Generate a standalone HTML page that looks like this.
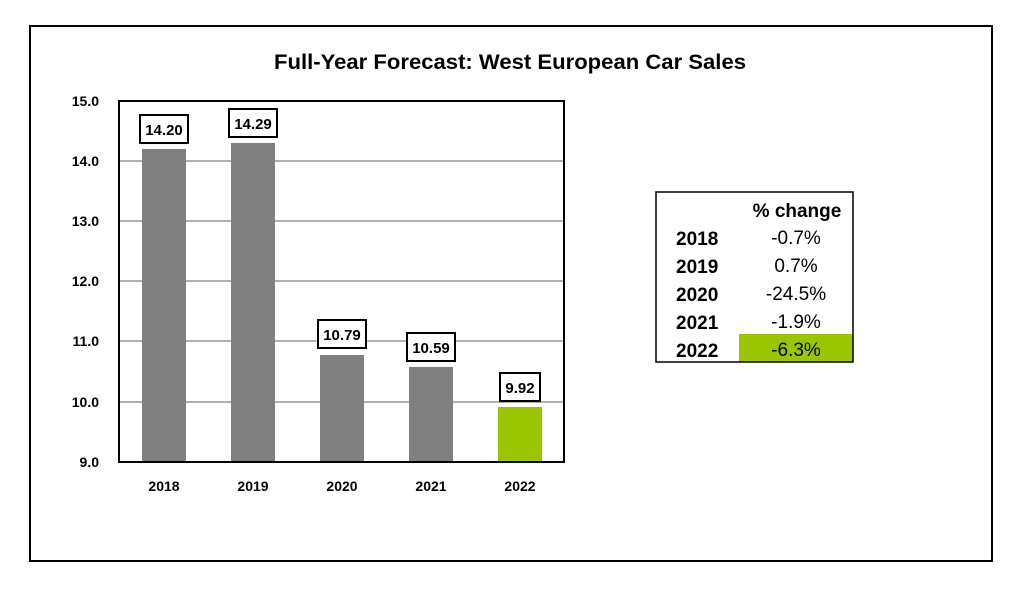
<!DOCTYPE html>
<html><head><meta charset="utf-8"><style>
html,body{margin:0;padding:0;background:#fff;}
</style></head><body>
<svg width="1023" height="587" xmlns="http://www.w3.org/2000/svg" font-family="Liberation Sans, sans-serif">
<rect x="0" y="0" width="1023" height="587" fill="#fff"/>
<rect x="30" y="26" width="962" height="535" fill="none" stroke="#000" stroke-width="2"/>
<text x="510" y="69" text-anchor="middle" font-size="21" font-weight="bold" textLength="472" lengthAdjust="spacingAndGlyphs">Full-Year Forecast: West European Car Sales</text>
<g stroke="#b0b0b0" stroke-width="2">
<line x1="119" y1="161" x2="564" y2="161"/>
<line x1="119" y1="221" x2="564" y2="221"/>
<line x1="119" y1="281" x2="564" y2="281"/>
<line x1="119" y1="341" x2="564" y2="341"/>
<line x1="119" y1="402" x2="564" y2="402"/>
</g>
<g fill="#808080">
<rect x="142" y="149" width="44" height="313"/>
<rect x="231" y="143" width="44" height="319"/>
<rect x="320" y="355" width="44" height="107"/>
<rect x="409" y="367" width="44" height="95"/>
</g>
<rect x="498" y="407" width="44" height="55" fill="#99c600"/>
<rect x="119" y="101" width="445" height="361" fill="none" stroke="#000" stroke-width="2"/>
<g font-size="14" font-weight="bold" text-anchor="end">
<text x="99" y="106">15.0</text>
<text x="99" y="166">14.0</text>
<text x="99" y="226">13.0</text>
<text x="99" y="286">12.0</text>
<text x="99" y="346">11.0</text>
<text x="99" y="407">10.0</text>
<text x="99" y="467">9.0</text>
</g>
<g font-size="14" font-weight="bold" text-anchor="middle">
<text x="164" y="491">2018</text>
<text x="253" y="491">2019</text>
<text x="342" y="491">2020</text>
<text x="431" y="491">2021</text>
<text x="520" y="491">2022</text>
</g>
<g fill="#fff" stroke="#000" stroke-width="2">
<rect x="140" y="115" width="48" height="28"/>
<rect x="229" y="109" width="48" height="28"/>
<rect x="318" y="320" width="48" height="28"/>
<rect x="407" y="333" width="48" height="28"/>
<rect x="500" y="373" width="40" height="28"/>
</g>
<g font-size="15" font-weight="bold" text-anchor="middle">
<text x="164" y="135">14.20</text>
<text x="253" y="129">14.29</text>
<text x="342" y="340">10.79</text>
<text x="431" y="353">10.59</text>
<text x="520" y="393">9.92</text>
</g>
<rect x="739" y="334" width="114" height="28" fill="#99c600"/>
<rect x="656" y="192" width="197" height="170" fill="none" stroke="#000" stroke-width="1.5"/>
<text x="797" y="217" font-size="19" font-weight="bold" text-anchor="middle">%  change</text>
<g font-size="19" font-weight="bold">
<text x="676" y="245">2018</text>
<text x="676" y="273">2019</text>
<text x="676" y="301">2020</text>
<text x="676" y="329">2021</text>
<text x="676" y="357">2022</text>
</g>
<g font-size="19" text-anchor="middle">
<text x="796" y="244">-0.7%</text>
<text x="796" y="272">0.7%</text>
<text x="796" y="300">-24.5%</text>
<text x="796" y="328">-1.9%</text>
<text x="796" y="356">-6.3%</text>
</g>
</svg>
</body></html>
